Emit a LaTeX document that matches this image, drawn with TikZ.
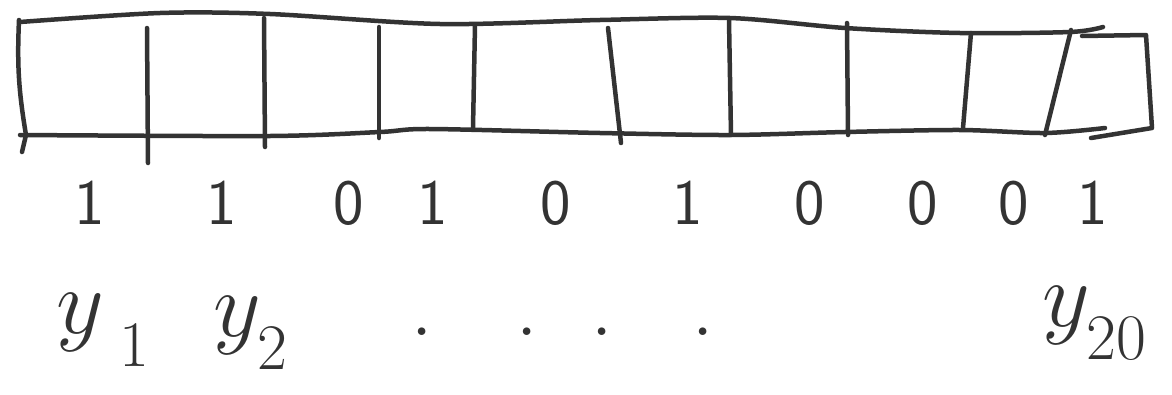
\RequirePackage{fix-cm}
\documentclass[tikz,border=0pt]{standalone}
\usepackage{tikz}
\definecolor{ink}{HTML}{333333}
\newcommand\bas[1]{_{\lower 14pt\hbox{$\scriptstyle #1$}}}

\begin{document}
\begin{tikzpicture}[x=0.025cm,y=-0.025cm,
    trait/.style={line width=3.2pt,draw=ink,line cap=round,line join=round},
    bit/.style={font=\fontsize{46}{46}\selectfont\sffamily,text=ink,inner sep=0pt,anchor=base},
    lbl/.style={font=\fontsize{66}{66}\selectfont,text=ink,inner sep=0pt,anchor=base west}]

\useasboundingbox (0,0) rectangle (1172,395);

% Cadre
\draw[trait] plot[smooth] coordinates {(20,22) (160,13) (270,14) (440,24) (600,20) (730,18) (845,28) (960,33) (1070,32) (1103,27)};
\draw[trait] plot[smooth] coordinates {(20,135) (270,136) (380,132) (430,129) (600,133) (730,135) (845,132) (960,130) (1045,133) (1105,128)};
\draw[trait] (19,20) to[bend right=6] (26,135) -- (22,152);
\draw[trait] (1082,36) -- (1146,35) -- (1152,128) -- (1091,138);

% Cases
\foreach \xt/\yt/\xb/\yb in {147/28/148/163, 264/18/265/147, 379/27/379/138,
    475/25/473/128, 608/28/621/143, 729/20/731/135, 847/23/848/135,
    971/33/963/128, 1071/30/1045/135}
    \draw[trait] (\xt,\yt) -- (\xb,\yb);

% Bits
\foreach \x/\b [count=\i] in {90/1, 222/1, 349/0, 433/1, 556/0, 688/1,
    810/0, 923/0, 1014/0, 1093/1}
    \node[bit] (b\i) at (\x,224) {\b};

% Indices
\node[lbl] (y1) at (56,333) {$y\mkern3mu\bas{1}$};
\node[lbl] (y2) at (213,336) {$y\bas{2}$};
\node[lbl] (y20) at (1042,326) {$y\bas{20}$};
\foreach \x [count=\i] in {422,527,602,703}
    \node[lbl,anchor=base] (p\i) at (\x,335) {.};

\end{tikzpicture}
\end{document}
